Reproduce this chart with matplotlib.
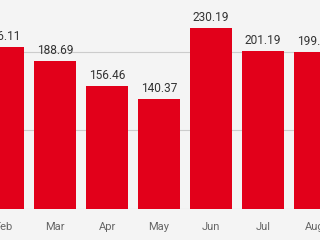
import matplotlib.pyplot as plt

months = ["Feb", "Mar", "Apr", "May", "Jun", "Jul", "Aug"]
values = [206.11, 188.69, 156.46, 140.37, 230.19, 201.19, 199.48]

plt.rcParams['font.family'] = ['Roboto', 'DejaVu Sans']

fig = plt.figure(figsize=(3.2, 2.4), dpi=100, facecolor="#f4f4f4")
ax = fig.add_axes([0, 0.129, 1, 0.871])
ax.set_facecolor("#f4f4f4")

x = range(len(months))
bars = ax.bar(x, values, width=0.79, color="#e2001a", zorder=2)

# value labels above each bar
for b, v in zip(bars, values):
    ax.annotate(f"{v:.2f}", (b.get_x() + b.get_width() / 2, v),
                xytext=(0, 3), textcoords="offset points",
                ha="center", va="bottom", fontsize=8.6, color="#333333")

ax.set_xlim(-0.058, 6.096)
ax.set_ylim(0, 266)
ax.set_yticks([0, 100, 200])
ax.yaxis.grid(True, color="#cccccc", linewidth=0.8, zorder=0)
ax.set_yticklabels([])
ax.tick_params(axis="y", length=0)

ax.set_xticks(list(x))
ax.set_xticklabels(months, fontsize=8, color="#666666")
ax.tick_params(axis="x", length=0, pad=9)

for s in ax.spines.values():
    s.set_visible(False)

fig.savefig("out.png", dpi=100, facecolor=fig.get_facecolor())
